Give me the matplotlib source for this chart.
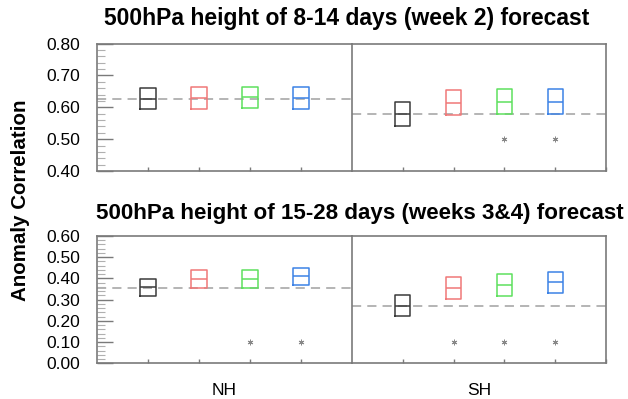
#!/usr/bin/env python3

from matplotlib import pyplot as plt
from matplotlib.ticker import MultipleLocator
import numpy as np

plt.rcParams['font.family'] = ['Liberation Sans', 'DejaVu Sans']
plt.rcParams['xtick.direction'] = 'in'
plt.rcParams['ytick.direction'] = 'in'

regions = ['NH', 'SH']
colors = ['#3a3a3a', '#f07878', '#5ee05e', '#3c82e6']

# week 2: [q1, median, q3] for the four models, per hemisphere
wk2_q1 = {'NH': [0.593, 0.596, 0.598, 0.596], 'SH': [0.541, 0.575, 0.579, 0.579]}
wk2_med = {'NH': [0.625, 0.628, 0.632, 0.628], 'SH': [0.578, 0.614, 0.618, 0.618]}
wk2_q3 = {'NH': [0.659, 0.662, 0.664, 0.662], 'SH': [0.617, 0.653, 0.657, 0.657]}
wk2_ref = {'NH': 0.625, 'SH': 0.578}
wk2_star = {'NH': [np.nan, np.nan, np.nan, np.nan], 'SH': [np.nan, np.nan, 0.50, 0.50]}

# weeks 3&4
wk34_q1 = {'NH': [0.315, 0.355, 0.355, 0.368], 'SH': [0.221, 0.304, 0.316, 0.330]}
wk34_med = {'NH': [0.359, 0.398, 0.398, 0.412], 'SH': [0.272, 0.355, 0.368, 0.381]}
wk34_q3 = {'NH': [0.398, 0.437, 0.437, 0.450], 'SH': [0.323, 0.406, 0.418, 0.428]}
wk34_ref = {'NH': 0.355, 'SH': 0.272}
wk34_star = {'NH': [np.nan, np.nan, 0.10, 0.10], 'SH': [np.nan, 0.10, 0.10, 0.10]}

spine_c = '#7a7a7a'

def drawPanel(ax, q1, med, q3, ref, star, ylim, left):
    for i in range(4):
        st = {'q1': q1[i], 'med': med[i], 'q3': q3[i],
              'whislo': q1[i], 'whishi': q3[i], 'fliers': []}
        ax.bxp([st], positions=[i + 1], widths=0.3, showcaps=False,
               showfliers=False, manage_ticks=False,
               boxprops={'color': colors[i], 'linewidth': 1.1},
               medianprops={'color': colors[i], 'linewidth': 1.1},
               whiskerprops={'color': colors[i], 'linewidth': 1.1})
    ax.axhline(ref, color='#a0a0a0', linestyle=(0, (6, 4)), linewidth=1.1, zorder=0)
    ax.plot([1, 2, 3, 4], star, linestyle='none', marker=(6, 2, 0), markersize=4,
            color='#888888', markeredgewidth=0.7)
    ax.set_xlim(0, 5)
    ax.set_ylim(*ylim)
    for s in ax.spines.values():
        s.set_color(spine_c)
        s.set_linewidth(1.2)
    if left:
        ax.spines['right'].set_visible(False)
        ax.set_xticks([1, 2, 3, 4])
        ax.yaxis.set_major_locator(MultipleLocator(0.1))
        ax.yaxis.set_minor_locator(MultipleLocator(0.02))
        ax.yaxis.set_major_formatter('{x:.2f}')
        ax.tick_params(axis='y', which='major', direction='in', length=11.5,
                       width=1.0, color=spine_c, labelsize=12.5, pad=12)
        ax.tick_params(axis='y', which='minor', direction='in', length=5.5,
                       width=0.8, color='#b0b0b0')
    else:
        ax.set_xticks([1, 2, 3, 4, 5])
        ax.set_yticks([])
    ax.tick_params(axis='x', direction='in', length=3, width=1.0, color=spine_c,
                   labelbottom=False)

fig = plt.figure(figsize=(6.28, 3.99), dpi=100)

w_nh = 255 / 628
w_sh = 254 / 628
x_nh = 97 / 628
x_sh = 352 / 628
h = 127.5 / 399

for r, x, w in zip(regions, [x_nh, x_sh], [w_nh, w_sh]):
    ax = fig.add_axes([x, 1 - 171 / 399, w, h])
    drawPanel(ax, wk2_q1[r], wk2_med[r], wk2_q3[r], wk2_ref[r], wk2_star[r],
              (0.4, 0.8), r == 'NH')
    ax = fig.add_axes([x, 1 - 363.3 / 399, w, h])
    drawPanel(ax, wk34_q1[r], wk34_med[r], wk34_q3[r], wk34_ref[r], wk34_star[r],
              (0.0, 0.6), r == 'NH')
    ax.set_xlabel(r, fontsize=12.5, labelpad=14)

fig.text(347 / 628, 1 - 18 / 399, '500hPa height of 8-14 days (week 2) forecast',
         ha='center', va='center', fontsize=16.5, fontweight='bold')
fig.text(360 / 628, 1 - 213 / 399, '500hPa height of 15-28 days (weeks 3&4) forecast',
         ha='center', va='center', fontsize=16.1, fontweight='bold')
fig.text(21 / 628, 1 - 200 / 399, 'Anomaly Correlation', rotation=90,
         ha='center', va='center', fontsize=14.8, fontweight='bold')

plt.savefig('out.png', dpi=100)
